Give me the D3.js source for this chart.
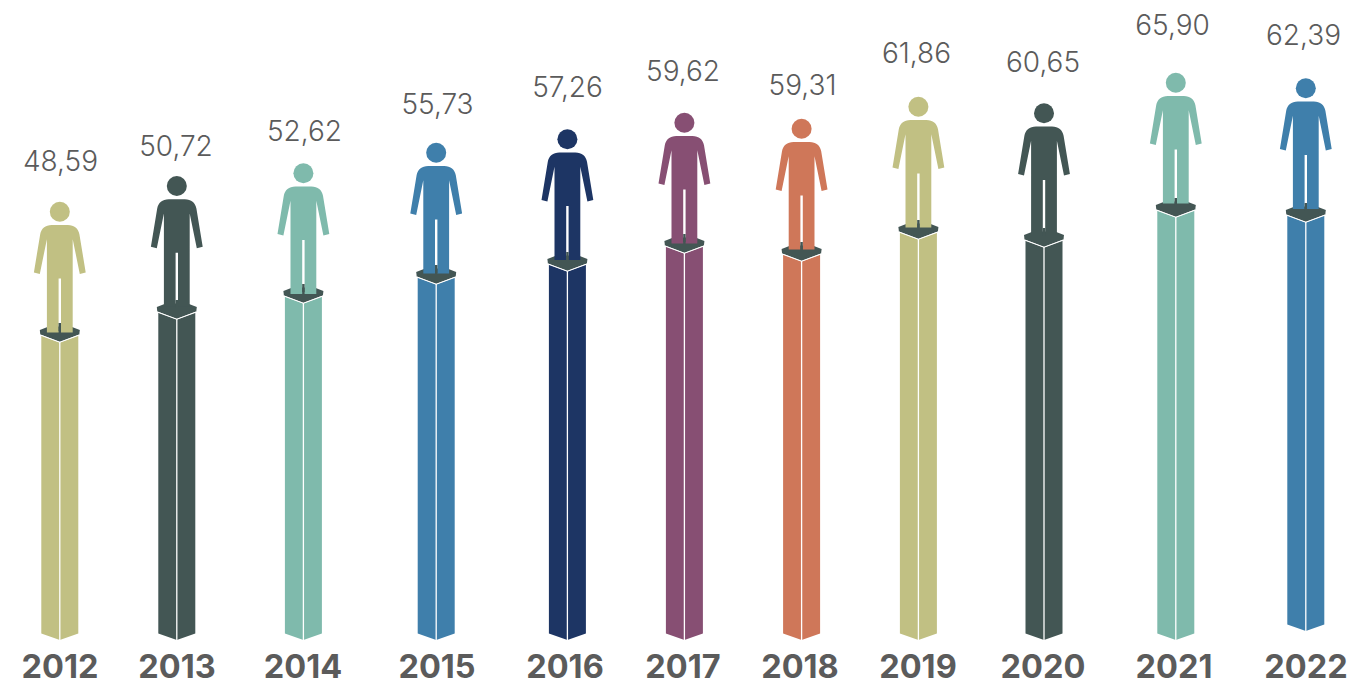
<!DOCTYPE html>
<html><head><meta charset="utf-8">
<script src="https://cdnjs.cloudflare.com/ajax/libs/d3/7.8.5/d3.min.js"></script>
<style>html,body{margin:0;padding:0;background:#fff;overflow:hidden}svg{display:block}</style>
</head><body><svg id="c" width="1348" height="681"></svg>
<script>
// Data
const years = ["2012","2013","2014","2015","2016","2017","2018","2019","2020","2021","2022"];
const values = ["48,59","50,72","52,62","55,73","57,26","59,62","59,31","61,86","60,65","65,90","62,39"];
// Drawn levels (the picture's bars are not proportional to the printed values)
const barLevels = [298,321,337,356,369,387,379,401,393,423,418];
const baseLevels = [0,0,0,0,0,0,0,0,0,0,9];
const figureLevels = [428.3,454,466.7,487.3,500.7,517.3,511.3,533.3,526.7,557.3,551.7];
const labelLevels = [479,494,509,536,553,569,555,587,578,615,605];
const barColors = ["#c1c083","#435654","#7fbaac","#3f7fab","#1d3564","#874f73","#cf7759","#c1c083","#435654","#7fbaac","#3f7fab"];

const x = d3.scaleOrdinal(years,[59.8,176.8,303.4,436.2,567.4,684.4,801.6,918.4,1044,1175.8,1305.8]);
const xValue = d3.scaleOrdinal(years,[60.5,176,304.5,437.5,567.5,683,802.5,916.5,1043,1172.5,1303.5]);
const xYear = d3.scaleOrdinal(years,[60,177,303,437,565,683,800,918,1043,1174,1306]);
const y = d3.scaleLinear().domain([0,640]).range([640,0]);
const DARK = "#435654";

const svg = d3.select("#c");
const rows = years.map((year,i)=>({year,value:values[i],bar:barLevels[i],base:baseLevels[i],fig:figureLevels[i],lab:labelLevels[i],color:barColors[i]}));

const line = d3.line();
function barShape(d){
  const t=y(d.bar), b=y(d.base);
  return line([[-18.5,t-6.5],[0,t+0.5],[18.5,t-6.5],[18.5,b-6.5],[0,b],[-18.5,b-6.5]])+"Z";
}
function platformShape(d){
  const t=y(d.bar);
  return line([[0,t],[19.5,t-7.5],[20,t-12],[11,t-15.5],[-11,t-15.5],[-20,t-12],[-19.5,t-7.5]])+"Z";
}
function personShape(d){
  const h=y(d.fig), p=d3.path();
  p.moveTo(-8,h+13.3);
  p.bezierCurveTo(-14.5,h+13.3,-18.6,h+17,-19.6,h+22.5);
  p.lineTo(-25.9,h+60.7);
  p.lineTo(-20,h+62.2);
  p.lineTo(-12.9,h+27.5);
  p.lineTo(-12.9,h+120.7);
  p.lineTo(-1.2,h+120.7);
  p.lineTo(-1.2,h+66.7);
  p.lineTo(1.2,h+66.7);
  p.lineTo(1.2,h+120.7);
  p.lineTo(12.9,h+120.7);
  p.lineTo(12.9,h+27.5);
  p.lineTo(20,h+62.2);
  p.lineTo(25.9,h+60.7);
  p.lineTo(19.6,h+22.5);
  p.bezierCurveTo(18.6,h+17,14.5,h+13.3,8,h+13.3);
  p.closePath();
  return p.toString();
}

const g = svg.selectAll("g.col").data(rows).join("g").attr("class","col")
  .attr("transform",d=>`translate(${x(d.year)},0)`);

g.append("path").attr("d",barShape).attr("fill",d=>d.color);
g.append("line").attr("x1",0).attr("x2",0).attr("y1",d=>y(d.bar)).attr("y2",d=>y(d.base))
  .attr("stroke","#fff").attr("stroke-width",1.3);
g.append("path").attr("d",platformShape).attr("fill",DARK);
g.append("path").attr("d",d=>{const t=y(d.bar);return line([[-19.5,t-7],[0,t+0.2],[19.5,t-7]]);})
  .attr("fill","none").attr("stroke","#fff").attr("stroke-width",1.2);
g.append("path").attr("d",personShape).attr("fill",d=>d.color);
g.append("circle").attr("cx",0).attr("cy",d=>y(d.fig)).attr("r",10).attr("fill",d=>d.color);
g.append("rect").attr("x",-1.2).attr("width",2.4).attr("y",d=>y(d.bar)-19).attr("height",8).attr("fill",DARK);

svg.selectAll("text.val").data(rows).join("text").attr("class","val")
  .attr("x",d=>xValue(d.year)).attr("y",d=>y(d.lab)+10)
  .attr("text-anchor","middle").attr("fill","#5b5b5b")
  .style("font-family","Inter").style("font-weight",300).style("font-size","28px")
  .text(d=>d.value);
svg.selectAll("text.yr").data(rows).join("text").attr("class","yr")
  .attr("x",d=>xYear(d.year)).attr("y",678)
  .attr("text-anchor","middle").attr("fill","#5b5b5b")
  .style("font-family","Inter").style("font-weight",700).style("font-size","32.5px")
  .text(d=>d.year);
</script></body></html>
